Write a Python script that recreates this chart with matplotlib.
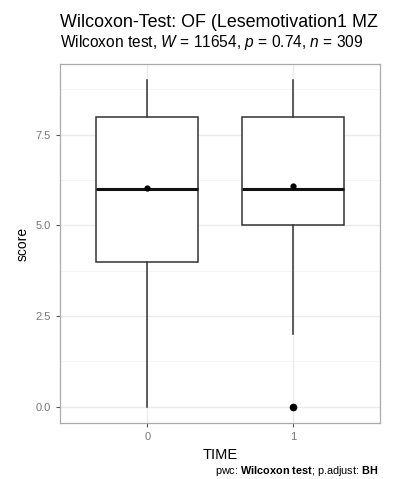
import matplotlib
matplotlib.use("Agg")
import matplotlib.pyplot as plt
from matplotlib.ticker import MultipleLocator

plt.rcParams["font.family"] = ["Liberation Sans", "DejaVu Sans"]
plt.rcParams["mathtext.fontset"] = "custom"
plt.rcParams["mathtext.rm"] = "Liberation Sans"
plt.rcParams["mathtext.it"] = "Liberation Sans:italic"
plt.rcParams["mathtext.bf"] = "Liberation Sans:bold"

# Summary statistics per time point
groups = ["0", "1"]
whisker_low = [0.0, 2.0]
q1 = [4.0, 5.0]
median = [6.0, 6.0]
q3 = [8.0, 8.0]
whisker_high = [9.0, 9.0]
means = [6.02, 6.09]
outliers = [[], [0.0]]

title = "Wilcoxon-Test: OF (Lesemotivation1 MZ"
W, p, n = 11654, 0.74, 309

fig = plt.figure(figsize=(4.06, 4.79), dpi=100)
L, R, T, B = 60 / 406, 380 / 406, 64 / 479, 423 / 479
ax = fig.add_axes([L, 1 - B, R - L, B - T])

stats = []
for i, g in enumerate(groups):
    stats.append(dict(label=g, whislo=whisker_low[i], q1=q1[i], med=median[i],
                      q3=q3[i], whishi=whisker_high[i], fliers=outliers[i]))

ax.bxp(stats, positions=[1, 2], widths=0.7, showcaps=False, patch_artist=True,
       boxprops=dict(facecolor="white", edgecolor="#333333", linewidth=1.1),
       whiskerprops=dict(color="#333333", linewidth=1.1),
       medianprops=dict(color="#111111", linewidth=2.2),
       flierprops=dict(marker="o", markerfacecolor="black", markeredgecolor="black",
                       markersize=4.5))
ax.scatter([1, 2], means, color="black", s=12, zorder=5)

ax.set_xlim(0.4, 2.6)
ax.set_ylim(-0.45, 9.45)
ax.yaxis.set_minor_locator(MultipleLocator(1.25))
ax.set_yticks([0, 2.5, 5, 7.5])
ax.set_yticklabels(["0.0", "2.5", "5.0", "7.5"])
ax.set_xticks([1, 2])
ax.set_xticklabels(groups)

ax.grid(which="major", color="#EBEBEB", linewidth=1.0)
ax.grid(which="minor", axis="y", color="#F4F4F4", linewidth=0.6)
ax.set_axisbelow(True)
for s in ax.spines.values():
    s.set_color("#AAAAAA")
    s.set_linewidth(0.9)
ax.tick_params(which="major", colors="#555555", labelsize=8, length=3, width=0.8,
               labelcolor="#777777")
ax.tick_params(which="minor", length=0, labelleft=False)

ax.set_ylabel("score", fontsize=10, labelpad=4)
ax.set_xlabel("TIME", fontsize=10.5, labelpad=4)

fig.text(L, 1 - 27 / 479, title, fontsize=12.9, ha="left", va="baseline")
fig.text(L, 1 - 47 / 479,
         rf"Wilcoxon test, $\it{{W}}$ = {W}, $\it{{p}}$ = {p}, $\it{{n}}$ = {n}",
         fontsize=11.2, ha="left", va="baseline")
fig.text(R - 2 / 406, 1 - 474 / 479,
         r"pwc: $\bf{Wilcoxon\ test}$; p.adjust: $\bf{BH}$",
         fontsize=7.8, ha="right", va="baseline")

fig.savefig("out.png", dpi=100)
